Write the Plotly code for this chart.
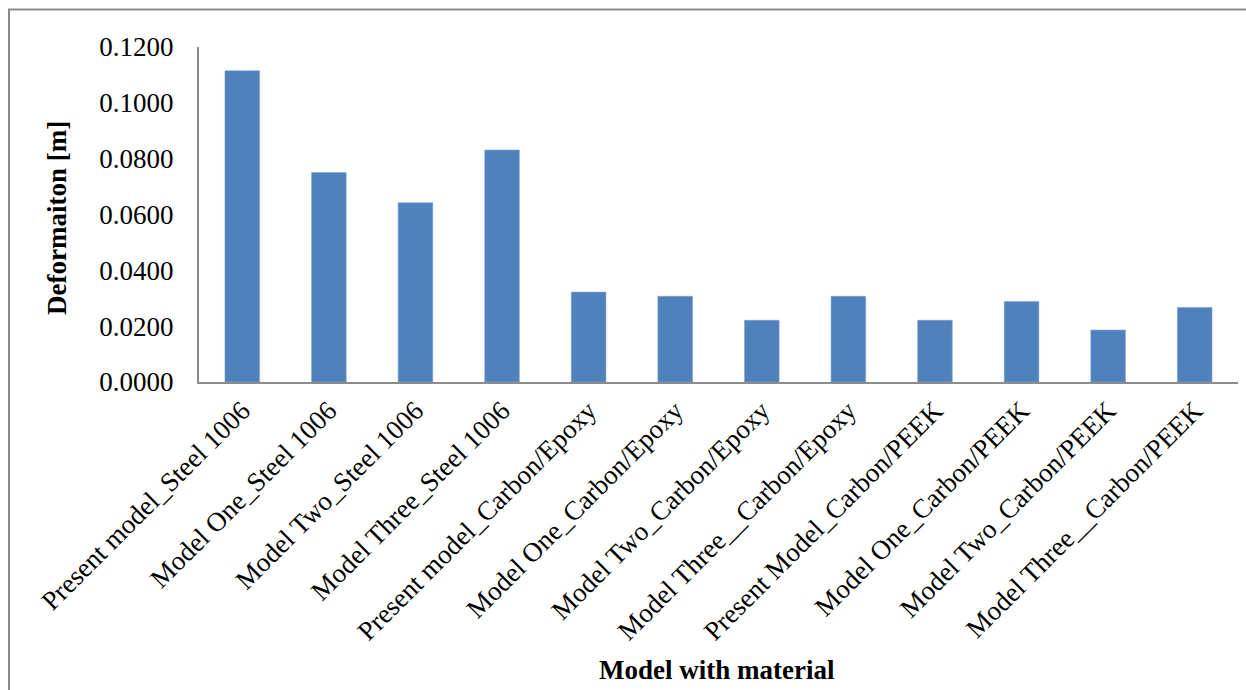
import plotly.graph_objects as go

# Deformation per model / material combination
categories = [
    "Present model_Steel 1006",
    "Model One_Steel 1006",
    "Model Two_Steel 1006",
    "Model Three_Steel 1006",
    "Present model_Carbon/Epoxy",
    "Model One_Carbon/Epoxy",
    "Model Two_Carbon/Epoxy",
    "Model Three__Carbon/Epoxy",
    "Present Model_Carbon/PEEK",
    "Model One_Carbon/PEEK",
    "Model Two_Carbon/PEEK",
    "Model Three__Carbon/PEEK",
]
deformation = [0.1115, 0.0750, 0.0642, 0.0831, 0.0322, 0.0307,
               0.0221, 0.0307, 0.0221, 0.0288, 0.0186, 0.0267]
y_ticks = [0.0, 0.02, 0.04, 0.06, 0.08, 0.10, 0.12]

FONT = "Liberation Serif, Times New Roman, serif"
W, H = 1246, 690
L, R, T, B = 199, 8, 47, 308
pw, ph = W - L - R, H - T - B


def px_x(x):
    return (x - L) / pw


def px_y(y):
    return (H - B - y) / ph


fig = go.Figure(
    go.Bar(
        x=categories,
        y=deformation,
        marker=dict(color="#4F81BD", line=dict(color="#7FA3D0", width=0.6)),
    )
)

fig.update_layout(
    width=W,
    height=H,
    margin=dict(l=L, r=R, t=T, b=B),
    paper_bgcolor="white",
    plot_bgcolor="white",
    bargap=0.6,
    showlegend=False,
    font=dict(family=FONT, size=27, color="black"),
    xaxis=dict(
        tickangle=-45,
        showline=True,
        linecolor="#8C8C8C",
        linewidth=2,
        ticks="",
        showgrid=False,
        tickfont=dict(family=FONT, size=27, color="black"),
    ),
    yaxis=dict(
        range=[0, 0.12],
        tickvals=y_ticks,
        ticktext=[f"{v:.4f}" for v in y_ticks],
        showline=True,
        linecolor="#8C8C8C",
        linewidth=2,
        ticks="",
        showgrid=False,
        zeroline=False,
        ticklabelstandoff=18,
        tickfont=dict(family=FONT, size=27, color="black"),
    ),
    annotations=[
        dict(
            text="<b>Deformaiton [m]</b>",
            xref="paper", yref="paper",
            x=px_x(57), y=px_y(218),
            textangle=-90, showarrow=False,
            xanchor="center", yanchor="middle",
            font=dict(family=FONT, size=27, color="black"),
        ),
        dict(
            text="<b>Model with material</b>",
            xref="paper", yref="paper",
            x=px_x(717), y=px_y(670),
            showarrow=False,
            xanchor="center", yanchor="middle",
            font=dict(family=FONT, size=27, color="black"),
        ),
    ],
    shapes=[
        dict(
            type="rect",
            xref="paper", yref="paper",
            x0=px_x(9), y0=px_y(700), x1=px_x(1260), y1=px_y(9.5),
            line=dict(color="#898989", width=2),
            fillcolor="rgba(0,0,0,0)",
            layer="below",
        )
    ],
)

fig.write_html("out.html")
